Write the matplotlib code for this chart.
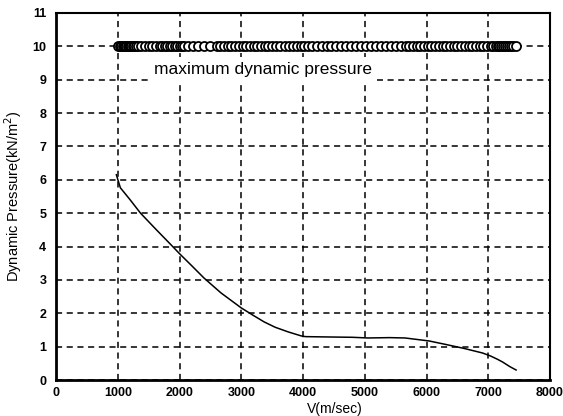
import matplotlib.pyplot as plt

plt.rcParams['font.family'] = ['Liberation Sans', 'DejaVu Sans']

# trajectory: velocity (m/sec) vs dynamic pressure (kN/m^2)
velocity = [977, 1042, 1200, 1368, 1600, 1889, 2003, 2200, 2394, 2671, 3000,
            3200, 3371, 3550, 3762, 3974, 4040, 4400, 4800, 5049, 5400, 5651,
            6042, 6300, 6600, 6906, 7036, 7150, 7231, 7350, 7450]
pressure = [6.15, 5.76, 5.4, 5.0, 4.55, 4.0, 3.78, 3.42, 3.06, 2.61, 2.16,
            1.93, 1.74, 1.58, 1.44, 1.32, 1.30, 1.29, 1.28, 1.26, 1.27, 1.26,
            1.17, 1.07, 0.95, 0.81, 0.72, 0.62, 0.54, 0.40, 0.30]

# maximum dynamic pressure constraint samples along the trajectory
limit_v = [1000, 1030, 1060, 1080, 1100, 1120, 1140, 1160, 1180, 1200, 1220,
           1240, 1260, 1290, 1330, 1380, 1440, 1500, 1560, 1620, 1680, 1720,
           1760, 1800, 1840, 1880, 1920, 1960, 2000, 2040, 2080, 2140, 2220,
           2300, 2400, 2500, 2600, 2660, 2720, 2780, 2840, 2900, 2960, 3020,
           3080, 3140, 3200, 3260, 3320, 3380, 3440, 3500, 3560, 3620, 3700,
           3780, 3840, 3900, 3960, 4020, 4080, 4140, 4220, 4300, 4380, 4460,
           4540, 4620, 4700, 4780, 4860, 4940, 5020, 5100, 5180, 5260, 5340,
           5420, 5500, 5580, 5660, 5720, 5780, 5840, 5900, 5960, 6020, 6080,
           6140, 6200, 6260, 6320, 6380, 6440, 6500, 6560, 6620, 6680, 6740,
           6800, 6860, 6920, 6980, 7040, 7080, 7120, 7150, 7180, 7210, 7240,
           7270, 7300, 7330, 7360, 7400, 7450]
limit_p = [10.0] * len(limit_v)

xticks = [0, 1000, 2000, 3000, 4000, 5000, 6000, 7000, 8000]
yticks = list(range(0, 12))

fig = plt.figure(figsize=(5.63, 4.16), dpi=100)
ax = fig.add_axes([0.0995, 0.0865, 0.8775, 0.8825])

ax.plot(velocity, pressure, color="black", linewidth=1.1)
ax.plot(limit_v, limit_p, linestyle="none", marker="o", markersize=6.5,
        markerfacecolor="white", markeredgecolor="black", markeredgewidth=1.3)

ax.text(1580, 9.3, "maximum dynamic pressure", fontsize=12.5, va="center",
        bbox=dict(facecolor="white", edgecolor="none", pad=4))

ax.set_xlim(0, 8000)
ax.set_ylim(0, 11)
ax.set_xticks(xticks)
ax.set_yticks(yticks)
ax.set_xticklabels([str(t) for t in xticks], fontsize=9, fontweight="bold")
ax.set_yticklabels([str(t) for t in yticks], fontsize=9, fontweight="bold")
ax.tick_params(axis="y", length=0, pad=7)
ax.tick_params(axis="x", length=0, pad=5)
ax.grid(True, color="black", linestyle=(0, (4, 3)), linewidth=1.1)
ax.set_axisbelow(True)

for side in ["left", "bottom"]:
    ax.spines[side].set_linewidth(2)
for side in ["top", "right"]:
    ax.spines[side].set_linewidth(1.5)

ax.set_xlabel("V(m/sec)", fontsize=10)
ax.xaxis.set_label_coords(0.565, -0.06)
ax.set_ylabel("Dynamic Pressure(kN/m$^2$)", fontsize=10.5, labelpad=6)

plt.savefig("out.png", dpi=100)
